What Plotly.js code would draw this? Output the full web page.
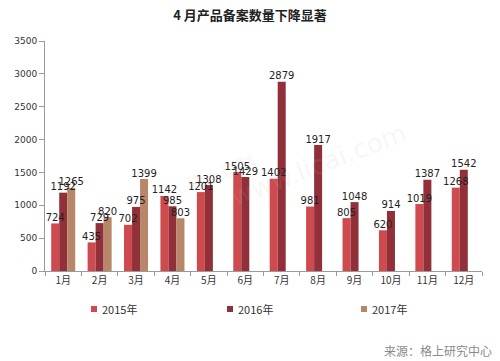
<!DOCTYPE html>
<html>
<head>
<meta charset="utf-8">
<script src="https://cdn.plot.ly/plotly-3.0.1.min.js"></script>
<style>html,body{margin:0;padding:0;background:#fff;}#chart{width:500px;height:361px;}</style>
</head>
<body>
<div id="chart"></div>
<script>
const months = ["1月","2月","3月","4月","5月","6月","7月","8月","9月","10月","11月","12月"];
const seriesNames = ["2015年","2016年","2017年"];
const values2015 = [724, 435, 702, 1142, 1201, 1505, 1402, 981, 805, 620, 1019, 1268];
const values2016 = [1192, 729, 975, 985, 1308, 1429, 2879, 1917, 1048, 914, 1387, 1542];
const values2017 = [1265, 820, 1399, 803, null, null, null, null, null, null, null, null];
const colors = ["#cf4a4f", "#92303a", "#b8876a"];
const titleText = "4 月产品备案数量下降显著";
const sourceText = "来源：格上研究中心";

const allValues = [values2015, values2016, values2017];
const barTraces = allValues.map((vals, i) => ({
  type: "bar",
  name: seriesNames[i],
  x: months,
  y: vals,
  marker: {color: colors[i]},
  hoverinfo: "x+y+name",
  showlegend: false
}));
// value labels as grouped text traces, drawn above all bars
const labelTraces = allValues.map((vals, i) => ({
  type: "scatter",
  mode: "text",
  name: seriesNames[i] + " 数值",
  x: months,
  y: vals,
  text: vals.map(v => v == null ? "" : String(v)),
  textposition: "top center",
  cliponaxis: false,
  textfont: {family: "DejaVu Sans", size: 10, color: "#222"},
  hoverinfo: "skip",
  showlegend: false
}));

// custom legend (small squares, like the reference)
const legendX = [ (94-45)/437, (230-45)/437, (364-45)/437 ];
const legendY = (271-309)/230;
const shapes = seriesNames.map((n, i) => ({
  type: "rect", xref: "paper", yref: "paper",
  xsizemode: "pixel", ysizemode: "pixel",
  xanchor: legendX[i], yanchor: legendY,
  x0: -3, x1: 3, y0: -3, y1: 3,
  fillcolor: colors[i], line: {width: 0}
}));
const annotations = seriesNames.map((n, i) => ({
  xref: "paper", yref: "paper",
  x: legendX[i], y: legendY, xshift: 6,
  xanchor: "left", yanchor: "middle",
  text: n, showarrow: false,
  font: {family: "Noto Sans CJK SC", size: 11, color: "#333"}
}));
annotations.push({
  xref: "paper", yref: "paper", x: (494-45)/437, y: (271-350)/230,
  xanchor: "right", yanchor: "middle", showarrow: false,
  text: sourceText,
  font: {family: "Noto Sans CJK SC", size: 12, color: "#8a8a8a"}
});
// faint watermark
annotations.push({
  xref: "paper", yref: "paper", x: (318-45)/437, y: (271-165)/230,
  showarrow: false, text: "www.licai.com", textangle: -21,
  font: {family: "DejaVu Sans", size: 26, color: "rgba(205,175,175,0.13)"}
});
annotations.push({
  xref: "paper", yref: "paper", x: (180-45)/437, y: (271-200)/230,
  showarrow: false, text: "格上理财", textangle: -21,
  font: {family: "Noto Sans CJK SC", size: 18, color: "rgba(205,175,175,0.13)"}
});

const layout = {
  width: 500, height: 361,
  margin: {l: 45, r: 18, t: 41, b: 90},
  paper_bgcolor: "#fff", plot_bgcolor: "#fff",
  title: {
    text: "<b>" + titleText + "</b>",
    x: 0.5, xref: "container", y: 1 - 15/361, yref: "container",
    xanchor: "center", yanchor: "middle",
    font: {family: "Noto Sans CJK SC", size: 13, color: "#222"}
  },
  barmode: "group",
  bargap: 0.34,
  bargroupgap: 0,
  scattermode: "group",
  scattergap: 0.34,
  xaxis: {
    type: "category",
    showline: true, linecolor: "#9a9a9a", linewidth: 1,
    ticks: "outside", tickson: "boundaries", ticklen: 4, tickcolor: "#9a9a9a",
    showgrid: false, zeroline: false,
    tickfont: {family: "Noto Sans CJK SC", size: 10, color: "#333"}
  },
  yaxis: {
    range: [0, 3500], dtick: 500, tick0: 0,
    showline: true, linecolor: "#9a9a9a", linewidth: 1,
    ticks: "outside", ticklen: 5, tickcolor: "#9a9a9a",
    showgrid: false, zeroline: false,
    tickfont: {family: "DejaVu Sans", size: 9, color: "#333"}
  },
  shapes: shapes,
  annotations: annotations,
  showlegend: false
};

Plotly.newPlot("chart", barTraces.concat(labelTraces), layout, {displayModeBar: false, staticPlot: true});
</script>
</body>
</html>
